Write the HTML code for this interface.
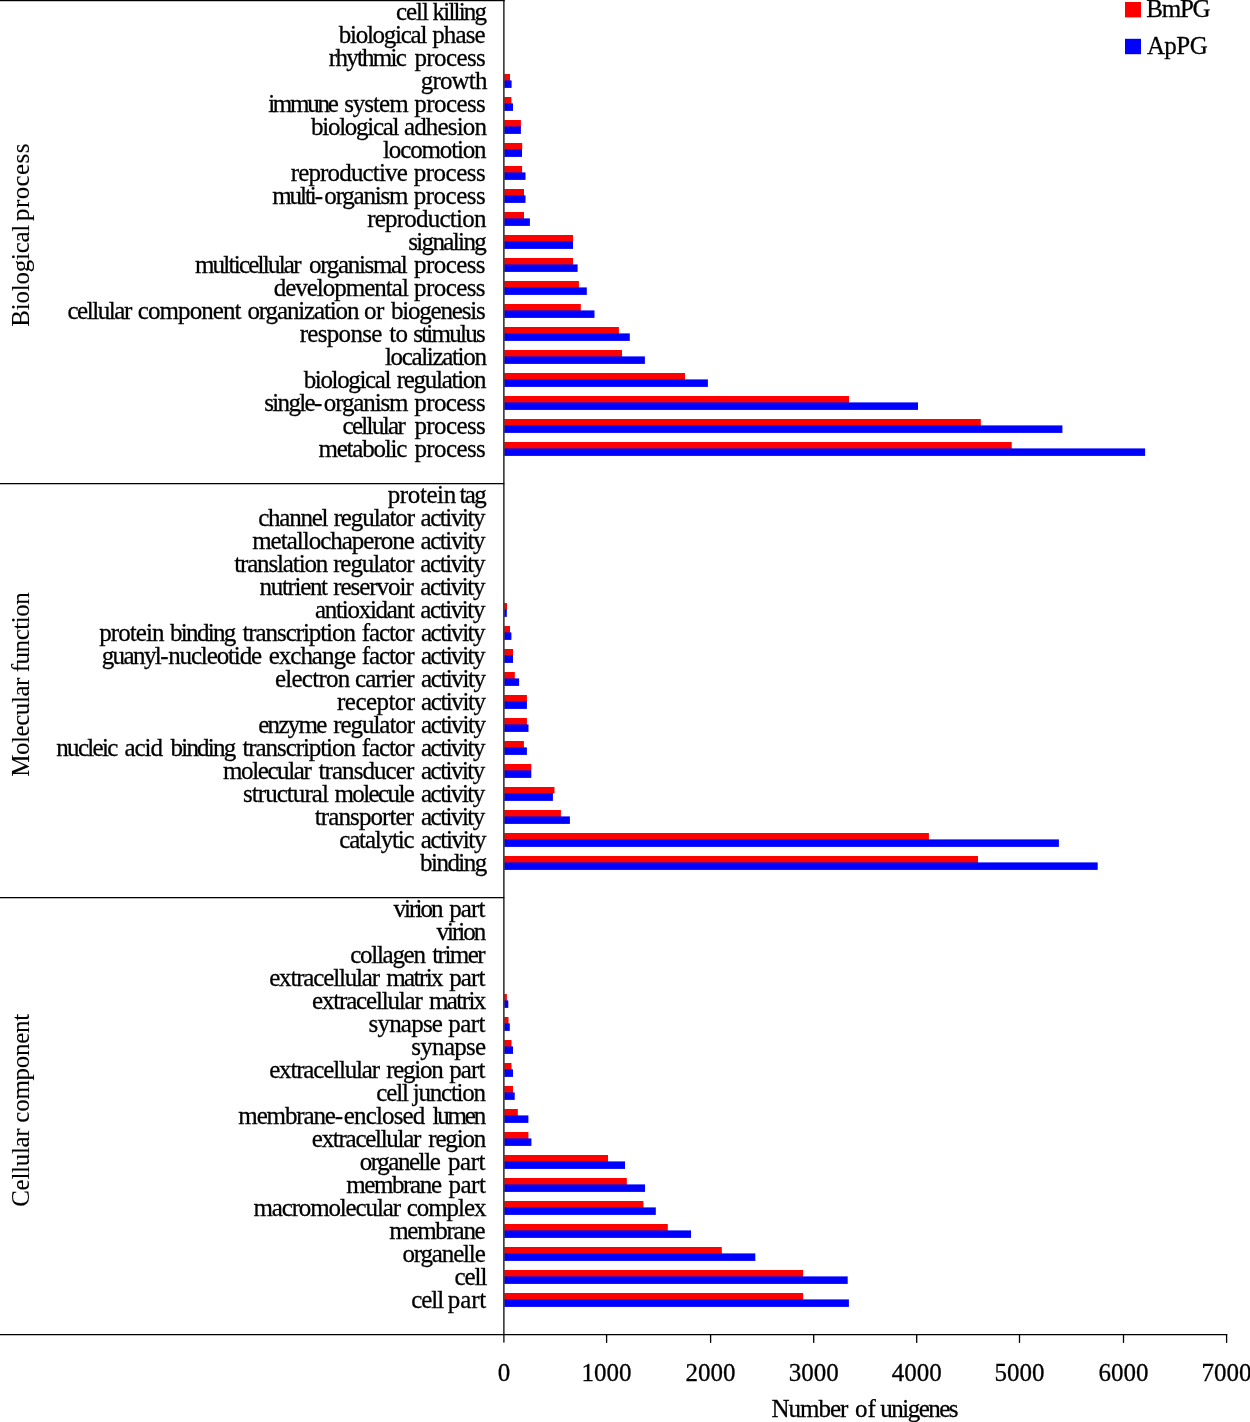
<!DOCTYPE html>
<html><head><meta charset="utf-8"><style>
html,body{margin:0;padding:0;background:#fff;}
body{width:1250px;height:1422px;overflow:hidden;}
svg{display:block;}
text{font-family:"Liberation Serif",serif;font-size:25px;fill:#000;stroke:#000;stroke-width:0.28px;}
text.r{stroke-width:0.1px;}
</style></head><body>
<div style="will-change:transform;width:1250px;height:1422px"><svg width="1250" height="1422" viewBox="0 0 1250 1422">
<rect x="0" y="0" width="1250" height="1422" fill="#fff"/>

<rect x="504.0" y="74.00" width="6.00" height="6.40" fill="#f00"/>
<rect x="504.0" y="79.90" width="6.00" height="1.2" fill="#f00"/>
<rect x="504.0" y="80.40" width="7.60" height="7.50" fill="#00f"/>
<rect x="504.0" y="97.00" width="7.40" height="6.40" fill="#f00"/>
<rect x="504.0" y="102.90" width="7.40" height="1.2" fill="#f00"/>
<rect x="504.0" y="103.40" width="9.00" height="7.50" fill="#00f"/>
<rect x="504.0" y="120.00" width="16.90" height="6.40" fill="#f00"/>
<rect x="504.0" y="125.90" width="16.90" height="1.2" fill="#f00"/>
<rect x="504.0" y="126.40" width="16.90" height="7.50" fill="#00f"/>
<rect x="504.0" y="143.00" width="18.20" height="6.40" fill="#f00"/>
<rect x="504.0" y="148.90" width="18.00" height="1.2" fill="#f00"/>
<rect x="504.0" y="149.40" width="18.00" height="7.50" fill="#00f"/>
<rect x="504.0" y="166.00" width="18.10" height="6.40" fill="#f00"/>
<rect x="504.0" y="171.90" width="18.10" height="1.2" fill="#f00"/>
<rect x="504.0" y="172.40" width="21.50" height="7.50" fill="#00f"/>
<rect x="504.0" y="189.00" width="20.00" height="6.40" fill="#f00"/>
<rect x="504.0" y="194.90" width="20.00" height="1.2" fill="#f00"/>
<rect x="504.0" y="195.40" width="21.50" height="7.50" fill="#00f"/>
<rect x="504.0" y="212.00" width="20.00" height="6.40" fill="#f00"/>
<rect x="504.0" y="217.90" width="20.00" height="1.2" fill="#f00"/>
<rect x="504.0" y="218.40" width="25.90" height="7.50" fill="#00f"/>
<rect x="504.0" y="235.00" width="69.00" height="6.40" fill="#f00"/>
<rect x="504.0" y="240.90" width="69.00" height="1.2" fill="#f00"/>
<rect x="504.0" y="241.40" width="69.00" height="7.50" fill="#00f"/>
<rect x="504.0" y="258.00" width="69.00" height="6.40" fill="#f00"/>
<rect x="504.0" y="263.90" width="69.00" height="1.2" fill="#f00"/>
<rect x="504.0" y="264.40" width="73.60" height="7.50" fill="#00f"/>
<rect x="504.0" y="281.00" width="74.90" height="6.40" fill="#f00"/>
<rect x="504.0" y="286.90" width="74.90" height="1.2" fill="#f00"/>
<rect x="504.0" y="287.40" width="82.80" height="7.50" fill="#00f"/>
<rect x="504.0" y="304.00" width="76.80" height="6.40" fill="#f00"/>
<rect x="504.0" y="309.90" width="76.80" height="1.2" fill="#f00"/>
<rect x="504.0" y="310.40" width="90.50" height="7.50" fill="#00f"/>
<rect x="504.0" y="327.00" width="114.90" height="6.40" fill="#f00"/>
<rect x="504.0" y="332.90" width="114.90" height="1.2" fill="#f00"/>
<rect x="504.0" y="333.40" width="125.80" height="7.50" fill="#00f"/>
<rect x="504.0" y="350.00" width="118.00" height="6.40" fill="#f00"/>
<rect x="504.0" y="355.90" width="118.00" height="1.2" fill="#f00"/>
<rect x="504.0" y="356.40" width="140.90" height="7.50" fill="#00f"/>
<rect x="504.0" y="373.00" width="181.00" height="6.40" fill="#f00"/>
<rect x="504.0" y="378.90" width="181.00" height="1.2" fill="#f00"/>
<rect x="504.0" y="379.40" width="203.90" height="7.50" fill="#00f"/>
<rect x="504.0" y="396.00" width="345.00" height="6.40" fill="#f00"/>
<rect x="504.0" y="401.90" width="345.00" height="1.2" fill="#f00"/>
<rect x="504.0" y="402.40" width="414.00" height="7.50" fill="#00f"/>
<rect x="504.0" y="419.00" width="476.80" height="6.40" fill="#f00"/>
<rect x="504.0" y="424.90" width="476.80" height="1.2" fill="#f00"/>
<rect x="504.0" y="425.40" width="558.40" height="7.50" fill="#00f"/>
<rect x="504.0" y="442.00" width="507.70" height="6.40" fill="#f00"/>
<rect x="504.0" y="447.90" width="507.70" height="1.2" fill="#f00"/>
<rect x="504.0" y="448.40" width="641.10" height="7.50" fill="#00f"/>
<rect x="504.0" y="603.00" width="3.00" height="6.40" fill="#f00"/>
<rect x="504.0" y="608.90" width="2.80" height="1.2" fill="#f00"/>
<rect x="504.0" y="609.40" width="2.80" height="7.50" fill="#00f"/>
<rect x="504.0" y="626.00" width="6.00" height="6.40" fill="#f00"/>
<rect x="504.0" y="631.90" width="6.00" height="1.2" fill="#f00"/>
<rect x="504.0" y="632.40" width="7.40" height="7.50" fill="#00f"/>
<rect x="504.0" y="649.00" width="9.00" height="6.40" fill="#f00"/>
<rect x="504.0" y="654.90" width="9.00" height="1.2" fill="#f00"/>
<rect x="504.0" y="655.40" width="9.00" height="7.50" fill="#00f"/>
<rect x="504.0" y="672.00" width="10.80" height="6.40" fill="#f00"/>
<rect x="504.0" y="677.90" width="10.80" height="1.2" fill="#f00"/>
<rect x="504.0" y="678.40" width="15.10" height="7.50" fill="#00f"/>
<rect x="504.0" y="695.00" width="22.90" height="6.40" fill="#f00"/>
<rect x="504.0" y="700.90" width="22.90" height="1.2" fill="#f00"/>
<rect x="504.0" y="701.40" width="22.90" height="7.50" fill="#00f"/>
<rect x="504.0" y="718.00" width="22.90" height="6.40" fill="#f00"/>
<rect x="504.0" y="723.90" width="22.90" height="1.2" fill="#f00"/>
<rect x="504.0" y="724.40" width="24.50" height="7.50" fill="#00f"/>
<rect x="504.0" y="741.00" width="19.90" height="6.40" fill="#f00"/>
<rect x="504.0" y="746.90" width="19.90" height="1.2" fill="#f00"/>
<rect x="504.0" y="747.40" width="22.90" height="7.50" fill="#00f"/>
<rect x="504.0" y="764.00" width="27.30" height="6.40" fill="#f00"/>
<rect x="504.0" y="769.90" width="27.30" height="1.2" fill="#f00"/>
<rect x="504.0" y="770.40" width="27.30" height="7.50" fill="#00f"/>
<rect x="504.0" y="787.00" width="50.50" height="6.40" fill="#f00"/>
<rect x="504.0" y="792.90" width="48.90" height="1.2" fill="#f00"/>
<rect x="504.0" y="793.40" width="48.90" height="7.50" fill="#00f"/>
<rect x="504.0" y="810.00" width="56.90" height="6.40" fill="#f00"/>
<rect x="504.0" y="815.90" width="56.90" height="1.2" fill="#f00"/>
<rect x="504.0" y="816.40" width="65.90" height="7.50" fill="#00f"/>
<rect x="504.0" y="833.00" width="424.90" height="6.40" fill="#f00"/>
<rect x="504.0" y="838.90" width="424.90" height="1.2" fill="#f00"/>
<rect x="504.0" y="839.40" width="554.90" height="7.50" fill="#00f"/>
<rect x="504.0" y="856.00" width="474.00" height="6.40" fill="#f00"/>
<rect x="504.0" y="861.90" width="474.00" height="1.2" fill="#f00"/>
<rect x="504.0" y="862.40" width="593.70" height="7.50" fill="#00f"/>
<rect x="504.0" y="994.00" width="2.90" height="6.40" fill="#f00"/>
<rect x="504.0" y="999.90" width="2.90" height="1.2" fill="#f00"/>
<rect x="504.0" y="1000.40" width="4.30" height="7.50" fill="#00f"/>
<rect x="504.0" y="1017.00" width="4.50" height="6.40" fill="#f00"/>
<rect x="504.0" y="1022.90" width="4.50" height="1.2" fill="#f00"/>
<rect x="504.0" y="1023.40" width="5.80" height="7.50" fill="#00f"/>
<rect x="504.0" y="1040.00" width="7.50" height="6.40" fill="#f00"/>
<rect x="504.0" y="1045.90" width="7.50" height="1.2" fill="#f00"/>
<rect x="504.0" y="1046.40" width="9.00" height="7.50" fill="#00f"/>
<rect x="504.0" y="1063.00" width="7.50" height="6.40" fill="#f00"/>
<rect x="504.0" y="1068.90" width="7.50" height="1.2" fill="#f00"/>
<rect x="504.0" y="1069.40" width="9.00" height="7.50" fill="#00f"/>
<rect x="504.0" y="1086.00" width="9.00" height="6.40" fill="#f00"/>
<rect x="504.0" y="1091.90" width="9.00" height="1.2" fill="#f00"/>
<rect x="504.0" y="1092.40" width="10.70" height="7.50" fill="#00f"/>
<rect x="504.0" y="1109.00" width="13.80" height="6.40" fill="#f00"/>
<rect x="504.0" y="1114.90" width="13.80" height="1.2" fill="#f00"/>
<rect x="504.0" y="1115.40" width="24.40" height="7.50" fill="#00f"/>
<rect x="504.0" y="1132.00" width="24.40" height="6.40" fill="#f00"/>
<rect x="504.0" y="1137.90" width="24.40" height="1.2" fill="#f00"/>
<rect x="504.0" y="1138.40" width="27.40" height="7.50" fill="#00f"/>
<rect x="504.0" y="1155.00" width="104.00" height="6.40" fill="#f00"/>
<rect x="504.0" y="1160.90" width="104.00" height="1.2" fill="#f00"/>
<rect x="504.0" y="1161.40" width="121.00" height="7.50" fill="#00f"/>
<rect x="504.0" y="1178.00" width="122.80" height="6.40" fill="#f00"/>
<rect x="504.0" y="1183.90" width="122.80" height="1.2" fill="#f00"/>
<rect x="504.0" y="1184.40" width="141.00" height="7.50" fill="#00f"/>
<rect x="504.0" y="1201.00" width="139.40" height="6.40" fill="#f00"/>
<rect x="504.0" y="1206.90" width="139.40" height="1.2" fill="#f00"/>
<rect x="504.0" y="1207.40" width="151.80" height="7.50" fill="#00f"/>
<rect x="504.0" y="1224.00" width="163.80" height="6.40" fill="#f00"/>
<rect x="504.0" y="1229.90" width="163.80" height="1.2" fill="#f00"/>
<rect x="504.0" y="1230.40" width="187.00" height="7.50" fill="#00f"/>
<rect x="504.0" y="1247.00" width="217.80" height="6.40" fill="#f00"/>
<rect x="504.0" y="1252.90" width="217.80" height="1.2" fill="#f00"/>
<rect x="504.0" y="1253.40" width="251.30" height="7.50" fill="#00f"/>
<rect x="504.0" y="1270.00" width="299.10" height="6.40" fill="#f00"/>
<rect x="504.0" y="1275.90" width="299.10" height="1.2" fill="#f00"/>
<rect x="504.0" y="1276.40" width="343.70" height="7.50" fill="#00f"/>
<rect x="504.0" y="1293.00" width="299.10" height="6.40" fill="#f00"/>
<rect x="504.0" y="1298.90" width="299.10" height="1.2" fill="#f00"/>
<rect x="504.0" y="1299.40" width="344.90" height="7.50" fill="#00f"/>
<rect x="503" y="0" width="1.7" height="1342.6" fill="#404040"/>
<rect x="0" y="0" width="504.7" height="1.22" fill="#000"/>
<rect x="0" y="483" width="504.3" height="1.28" fill="#000"/>
<rect x="0" y="897" width="504.3" height="1.28" fill="#000"/>
<rect x="0" y="1334" width="1227.2" height="1.26" fill="#000"/>
<rect x="605.95" y="1334" width="1.3" height="8.9" fill="#000"/>
<rect x="709.95" y="1334" width="1.3" height="8.9" fill="#000"/>
<rect x="813.05" y="1334" width="1.3" height="8.9" fill="#000"/>
<rect x="916.05" y="1334" width="1.3" height="8.9" fill="#000"/>
<rect x="1018.85" y="1334" width="1.3" height="8.9" fill="#000"/>
<rect x="1122.85" y="1334" width="1.3" height="8.9" fill="#000"/>
<rect x="1225.95" y="1334" width="1.3" height="8.9" fill="#000"/>
<text x="396.06" y="19.70" style="letter-spacing:-1.065px">cell</text>
<text x="432.61" y="19.70" style="letter-spacing:-1.810px">killing</text>
<text x="338.78" y="42.70" style="letter-spacing:-1.265px">biological</text>
<text x="432.26" y="42.70" style="letter-spacing:-0.905px">phase</text>
<text x="328.84" y="65.70" style="letter-spacing:-1.758px">rhythmic</text>
<text x="414.46" y="65.70" style="letter-spacing:-0.598px">process</text>
<text x="420.74" y="88.70" style="letter-spacing:-0.835px">growth</text>
<text x="268.16" y="111.70" style="letter-spacing:-2.264px">immune</text>
<text x="344.13" y="111.70" style="letter-spacing:-0.993px">system</text>
<text x="414.36" y="111.70" style="letter-spacing:-0.598px">process</text>
<text x="311.08" y="134.70" style="letter-spacing:-1.287px">biological</text>
<text x="403.92" y="134.70" style="letter-spacing:-0.837px">adhesion</text>
<text x="383.08" y="157.70" style="letter-spacing:-1.151px">locomotion</text>
<text x="290.74" y="180.70" style="letter-spacing:-0.844px">reproductive</text>
<text x="413.66" y="180.70" style="letter-spacing:-0.481px">process</text>
<text x="272.23" y="203.70" style="letter-spacing:-2.072px">multi-</text>
<text x="324.36" y="203.70" style="letter-spacing:-1.212px">organism</text>
<text x="413.66" y="203.70" style="letter-spacing:-0.481px">process</text>
<text x="367.24" y="226.70" style="letter-spacing:-0.779px">reproduction</text>
<text x="408.23" y="249.70" style="letter-spacing:-1.636px">signaling</text>
<text x="194.93" y="272.70" style="letter-spacing:-1.763px">multicellular</text>
<text x="309.06" y="272.70" style="letter-spacing:-1.325px">organismal</text>
<text x="414.06" y="272.70" style="letter-spacing:-0.581px">process</text>
<text x="273.66" y="295.70" style="letter-spacing:-0.999px">developmental</text>
<text x="414.06" y="295.70" style="letter-spacing:-0.581px">process</text>
<text x="67.46" y="318.70" style="letter-spacing:-1.457px">cellular</text>
<text x="137.86" y="318.70" style="letter-spacing:-0.937px">component</text>
<text x="247.46" y="318.70" style="letter-spacing:-1.133px">organization</text>
<text x="364.06" y="318.70" style="letter-spacing:-0.491px">or</text>
<text x="390.88" y="318.70" style="letter-spacing:-1.179px">biogenesis</text>
<text x="299.74" y="341.70" style="letter-spacing:-0.691px">response</text>
<text x="389.33" y="341.70" style="letter-spacing:-0.821px">to</text>
<text x="413.23" y="341.70" style="letter-spacing:-1.760px">stimulus</text>
<text x="384.88" y="364.70" style="letter-spacing:-1.326px">localization</text>
<text x="303.68" y="387.70" style="letter-spacing:-1.354px">biological</text>
<text x="396.74" y="387.70" style="letter-spacing:-1.285px">regulation</text>
<text x="264.23" y="410.70" style="letter-spacing:-1.659px">single-</text>
<text x="323.86" y="410.70" style="letter-spacing:-1.140px">organism</text>
<text x="414.26" y="410.70" style="letter-spacing:-0.598px">process</text>
<text x="342.46" y="433.70" style="letter-spacing:-1.657px">cellular</text>
<text x="414.46" y="433.70" style="letter-spacing:-0.598px">process</text>
<text x="318.53" y="456.70" style="letter-spacing:-1.231px">metabolic</text>
<text x="414.46" y="456.70" style="letter-spacing:-0.598px">process</text>
<text x="387.76" y="502.70" style="letter-spacing:-0.399px">protein</text>
<text x="459.43" y="502.70" style="letter-spacing:-1.625px">tag</text>
<text x="258.16" y="525.70" style="letter-spacing:-1.238px">channel</text>
<text x="333.64" y="525.70" style="letter-spacing:-1.097px">regulator</text>
<text x="420.52" y="525.70" style="letter-spacing:-1.430px">activity</text>
<text x="252.13" y="548.70" style="letter-spacing:-0.995px">metallochaperone</text>
<text x="420.52" y="548.70" style="letter-spacing:-1.430px">activity</text>
<text x="234.13" y="571.70" style="letter-spacing:-1.133px">translation</text>
<text x="333.14" y="571.70" style="letter-spacing:-1.084px">regulator</text>
<text x="420.32" y="571.70" style="letter-spacing:-1.415px">activity</text>
<text x="259.57" y="594.70" style="letter-spacing:-1.330px">nutrient</text>
<text x="333.14" y="594.70" style="letter-spacing:-1.033px">reservoir</text>
<text x="420.32" y="594.70" style="letter-spacing:-1.415px">activity</text>
<text x="314.92" y="617.70" style="letter-spacing:-1.249px">antioxidant</text>
<text x="420.32" y="617.70" style="letter-spacing:-1.415px">activity</text>
<text x="99.16" y="640.70" style="letter-spacing:-0.899px">protein</text>
<text x="170.08" y="640.70" style="letter-spacing:-1.716px">binding</text>
<text x="242.43" y="640.70" style="letter-spacing:-1.072px">transcription</text>
<text x="361.66" y="640.70" style="letter-spacing:-1.080px">factor</text>
<text x="420.92" y="640.70" style="letter-spacing:-1.473px">activity</text>
<text x="101.64" y="663.70" style="letter-spacing:-1.586px">guanyl-</text>
<text x="168.17" y="663.70" style="letter-spacing:-1.132px">nucleotide</text>
<text x="268.73" y="663.70" style="letter-spacing:-1.010px">exchange</text>
<text x="361.66" y="663.70" style="letter-spacing:-1.080px">factor</text>
<text x="420.92" y="663.70" style="letter-spacing:-1.473px">activity</text>
<text x="274.93" y="686.70" style="letter-spacing:-0.733px">electron</text>
<text x="355.06" y="686.70" style="letter-spacing:-0.933px">carrier</text>
<text x="421.12" y="686.70" style="letter-spacing:-1.458px">activity</text>
<text x="337.04" y="709.70" style="letter-spacing:-0.538px">receptor</text>
<text x="421.12" y="709.70" style="letter-spacing:-1.458px">activity</text>
<text x="258.23" y="732.70" style="letter-spacing:-1.698px">enzyme</text>
<text x="333.14" y="732.70" style="letter-spacing:-1.034px">regulator</text>
<text x="421.12" y="732.70" style="letter-spacing:-1.458px">activity</text>
<text x="56.27" y="755.70" style="letter-spacing:-1.677px">nucleic</text>
<text x="124.52" y="755.70" style="letter-spacing:-1.090px">acid</text>
<text x="170.48" y="755.70" style="letter-spacing:-1.766px">binding</text>
<text x="242.43" y="755.70" style="letter-spacing:-1.072px">transcription</text>
<text x="361.66" y="755.70" style="letter-spacing:-1.080px">factor</text>
<text x="420.92" y="755.70" style="letter-spacing:-1.473px">activity</text>
<text x="223.03" y="778.70" style="letter-spacing:-1.397px">molecular</text>
<text x="318.53" y="778.70" style="letter-spacing:-0.930px">transducer</text>
<text x="421.02" y="778.70" style="letter-spacing:-1.530px">activity</text>
<text x="243.03" y="801.70" style="letter-spacing:-0.954px">structural</text>
<text x="334.53" y="801.70" style="letter-spacing:-1.619px">molecule</text>
<text x="421.02" y="801.70" style="letter-spacing:-1.530px">activity</text>
<text x="314.73" y="824.70" style="letter-spacing:-0.887px">transporter</text>
<text x="421.02" y="824.70" style="letter-spacing:-1.530px">activity</text>
<text x="339.26" y="847.70" style="letter-spacing:-1.159px">catalytic</text>
<text x="420.72" y="847.70" style="letter-spacing:-1.315px">activity</text>
<text x="420.08" y="870.70" style="letter-spacing:-1.549px">binding</text>
<text x="393.38" y="916.70" style="letter-spacing:-1.923px">virion</text>
<text x="449.16" y="916.70" style="letter-spacing:-0.821px">part</text>
<text x="436.58" y="939.70" style="letter-spacing:-2.003px">virion</text>
<text x="350.16" y="962.70" style="letter-spacing:-1.270px">collagen</text>
<text x="432.23" y="962.70" style="letter-spacing:-1.555px">trimer</text>
<text x="269.13" y="985.70" style="letter-spacing:-1.163px">extracellular</text>
<text x="386.23" y="985.70" style="letter-spacing:-1.600px">matrix</text>
<text x="449.16" y="985.70" style="letter-spacing:-0.821px">part</text>
<text x="312.03" y="1008.70" style="letter-spacing:-1.172px">extracellular</text>
<text x="428.93" y="1008.70" style="letter-spacing:-1.580px">matrix</text>
<text x="368.53" y="1031.70" style="letter-spacing:-0.790px">synapse</text>
<text x="448.26" y="1031.70" style="letter-spacing:-0.521px">part</text>
<text x="411.33" y="1054.70" style="letter-spacing:-0.724px">synapse</text>
<text x="269.13" y="1077.70" style="letter-spacing:-1.163px">extracellular</text>
<text x="386.24" y="1077.70" style="letter-spacing:-1.294px">region</text>
<text x="449.16" y="1077.70" style="letter-spacing:-0.821px">part</text>
<text x="376.36" y="1100.70" style="letter-spacing:-1.199px">cell</text>
<text x="412.87" y="1100.70" style="letter-spacing:-1.249px">junction</text>
<text x="238.33" y="1123.70" style="letter-spacing:-1.129px">membrane-</text>
<text x="343.83" y="1123.70" style="letter-spacing:-0.852px">enclosed</text>
<text x="432.38" y="1123.70" style="letter-spacing:-2.146px">lumen</text>
<text x="311.83" y="1146.70" style="letter-spacing:-1.280px">extracellular</text>
<text x="428.24" y="1146.70" style="letter-spacing:-1.154px">region</text>
<text x="359.66" y="1169.70" style="letter-spacing:-1.433px">organelle</text>
<text x="448.06" y="1169.70" style="letter-spacing:-0.455px">part</text>
<text x="346.13" y="1192.70" style="letter-spacing:-1.376px">membrane</text>
<text x="448.46" y="1192.70" style="letter-spacing:-0.488px">part</text>
<text x="253.43" y="1215.70" style="letter-spacing:-1.144px">macromolecular</text>
<text x="406.76" y="1215.70" style="letter-spacing:-1.066px">complex</text>
<text x="389.23" y="1238.70" style="letter-spacing:-1.290px">membrane</text>
<text x="402.46" y="1261.70" style="letter-spacing:-1.158px">organelle</text>
<text x="454.46" y="1284.70" style="letter-spacing:-1.065px">cell</text>
<text x="411.26" y="1307.70" style="letter-spacing:-1.065px">cell</text>
<text x="447.86" y="1307.70" style="letter-spacing:-0.155px">part</text>
<text class="r" transform="translate(29.1,325.7) rotate(-90)" x="-1" y="0" style="letter-spacing:-0.24px">Biological</text>
<text class="r" transform="translate(29.1,219.9) rotate(-90)" x="-1" y="0" style="letter-spacing:0.38px">process</text>
<text class="r" transform="translate(29.1,775.7) rotate(-90)" x="-1" y="0" style="letter-spacing:-0.46px">Molecular function</text>
<text class="r" transform="translate(29.1,1205.8) rotate(-90)" x="-1" y="0" style="letter-spacing:-0.29px">Cellular component</text>
<text x="503.90" y="1380.6" text-anchor="middle">0</text>
<text x="606.60" y="1380.6" text-anchor="middle">1000</text>
<text x="710.60" y="1380.6" text-anchor="middle">2000</text>
<text x="813.70" y="1380.6" text-anchor="middle">3000</text>
<text x="916.70" y="1380.6" text-anchor="middle">4000</text>
<text x="1019.50" y="1380.6" text-anchor="middle">5000</text>
<text x="1123.50" y="1380.6" text-anchor="middle">6000</text>
<text x="1226.60" y="1380.6" text-anchor="middle">7000</text>
<text x="771.56" y="1416.6" style="letter-spacing:-1.039px">Number</text>
<text x="854.96" y="1416.6" style="letter-spacing:0.000px">of</text>
<text x="880.28" y="1416.6" style="letter-spacing:-1.514px">unigenes</text>
<rect x="1125" y="2" width="16" height="15.4" fill="#f00"/>
<rect x="1125" y="38.8" width="16" height="15.4" fill="#00f"/>
<text x="1146.36" y="17.0" style="letter-spacing:-1.268px">BmPG</text>
<text x="1146.88" y="53.6" style="letter-spacing:-0.560px">ApPG</text>
</svg></div></body></html>
